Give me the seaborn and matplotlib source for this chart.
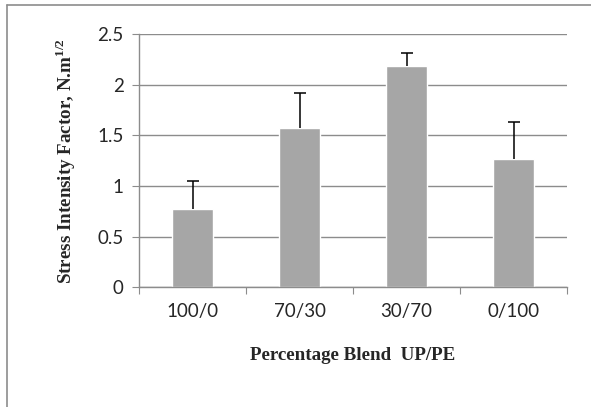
import pandas as pd
import seaborn as sns
import matplotlib.pyplot as plt
from matplotlib.lines import Line2D

# данные графика
blends = ['100/0', '70/30', '30/70', '0/100']
k_values = [0.77, 1.57, 2.18, 1.27]
k_errors = [0.28, 0.35, 0.13, 0.36]

data = pd.DataFrame({'blend': blends, 'k': k_values})

sns.set_style('white')
plt.rcParams['font.family'] = ['Lato', 'DejaVu Sans']
plt.rcParams['mathtext.fontset'] = 'custom'
plt.rcParams['mathtext.rm'] = 'Liberation Serif:bold'

fig = plt.figure(figsize=(5.91, 4.07), dpi=100)
ax = fig.add_axes([0.2352, 0.2941, 0.7242, 0.6224])

sns.barplot(x='blend', y='k', data=data, color='#a6a6a6', saturation=1,
            width=0.39, errorbar=None, ax=ax, zorder=2)

# планки погрешностей только вверх
centers = [p.get_x() + p.get_width() / 2 for p in ax.patches]
eb = ax.errorbar(centers, k_values, yerr=[[0] * len(k_errors), k_errors],
                 fmt='none', ecolor='black', elinewidth=1.1, capsize=4,
                 capthick=1.1, zorder=3)
eb[1][0].set_visible(False)  # нижняя засечка не нужна

ax.set_ylim(0, 2.5)
ax.set_yticks([0, 0.5, 1, 1.5, 2, 2.5])
ax.set_yticklabels(['0', '0.5', '1', '1.5', '2', '2.5'])
ax.set_xlim(-0.5, 3.5)
ax.set_xticks([-0.5, 0.5, 1.5, 2.5, 3.5])
ax.set_xticklabels([])
ax.set_xticks(range(len(blends)), minor=True)
ax.set_xticklabels(blends, minor=True)

ax.yaxis.grid(True, color='#8c8c8c', linewidth=1)
ax.set_axisbelow(True)
for side in ['top', 'right']:
    ax.spines[side].set_visible(False)
for side in ['left', 'bottom']:
    ax.spines[side].set_color('#8c8c8c')
    ax.spines[side].set_linewidth(1)

ax.tick_params(axis='y', which='major', length=5, color='#8c8c8c',
               labelsize=13.5, pad=6, left=True)
ax.tick_params(axis='x', which='major', length=5, color='#8c8c8c',
               direction='out', bottom=True)
ax.tick_params(axis='x', which='minor', length=0, labelsize=13.5, pad=11)

ax.set_xlabel('Percentage Blend  UP/PE', family='Liberation Serif',
              fontweight='bold', fontsize=13.7, labelpad=20)
ax.set_ylabel(r'Stress Intensity Factor, N.m$^{\mathrm{1/2}}$',
              family='Liberation Serif', fontweight='bold', fontsize=13.7,
              labelpad=14)

# рамка вокруг области диаграммы
fig.add_artist(Line2D([0.011, 0.011], [0, 0.987], color='#8c8c8c', lw=1.2,
                      transform=fig.transFigure))
fig.add_artist(Line2D([0.011, 1], [0.987, 0.987], color='#8c8c8c', lw=1.2,
                      transform=fig.transFigure))

fig.savefig('out.png', dpi=100)
